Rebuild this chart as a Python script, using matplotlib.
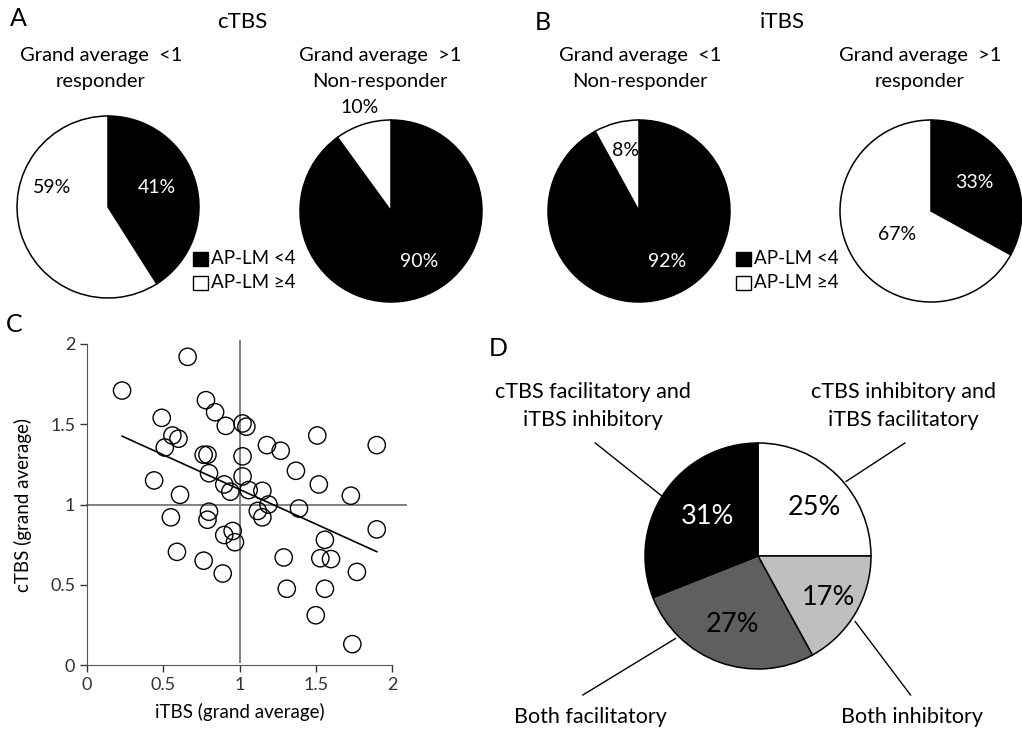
import numpy as np
import matplotlib
matplotlib.use('Agg')
import matplotlib.pyplot as plt
from matplotlib.patches import Rectangle

plt.rcParams['font.family'] = ['Lato', 'DejaVu Sans']

# Panel A / B: share of AP-LM groups (%), black = AP-LM <4, white = AP-LM >=4
ctbs_below = [41, 59]
ctbs_above = [90, 10]
itbs_below = [92, 8]
itbs_above = [33, 67]
legend_labels = ['AP-LM <4', 'AP-LM ≥4']

# Panel C: grand averages per subject
itbs_avg = [0.23, 0.66, 0.78, 0.84, 0.91, 1.02, 1.045, 0.49, 0.56, 0.60,
            0.51, 0.765, 0.79, 1.02, 1.18, 1.27, 1.51, 1.90, 1.37, 0.80,
            0.44, 1.02, 0.90, 0.94, 1.06, 1.15, 1.52, 1.73, 0.61, 1.19,
            1.39, 1.12, 1.15, 0.80, 0.79, 0.55, 0.955, 0.90, 0.97, 1.90,
            1.56, 0.59, 0.765, 0.89, 1.29, 1.53, 1.60, 1.77, 1.31, 1.56,
            1.50, 1.74]
ctbs_avg = [1.71, 1.92, 1.65, 1.575, 1.49, 1.505, 1.485, 1.54, 1.43, 1.41,
            1.355, 1.31, 1.31, 1.30, 1.37, 1.335, 1.43, 1.37, 1.21, 1.195,
            1.15, 1.175, 1.125, 1.08, 1.09, 1.085, 1.125, 1.055, 1.06, 1.0,
            0.975, 0.96, 0.92, 0.955, 0.905, 0.92, 0.835, 0.81, 0.765, 0.845,
            0.78, 0.705, 0.65, 0.57, 0.67, 0.665, 0.66, 0.58, 0.475, 0.475,
            0.31, 0.13]
axis_ticks = [0, 0.5, 1, 1.5, 2]
tick_labels = ['0', '0.5', '1', '1.5', '2']

# Panel D: combined response profile (%)
combo_values = [25, 17, 27, 31]
combo_colors = ['white', '#bfbfbf', '#5f5f5f', 'black']
combo_labels = ['cTBS inhibitory and\niTBS facilitatory', 'Both inhibitory',
                'Both facilitatory', 'cTBS facilitatory and\niTBS inhibitory']

W, H = 1022, 729
fig = plt.figure(figsize=(W / 100, H / 100), dpi=100)


def px_axes(left, top, width, height):
    return fig.add_axes([left / W, 1 - (top + height) / H, width / W, height / H])


def px_text(x, y, s, **kw):
    kw.setdefault('ha', 'center')
    kw.setdefault('va', 'center')
    return fig.text(x / W, 1 - y / H, s, **kw)


def pie_axes(cx, cy, r):
    return px_axes(cx - r, cy - r, 2 * r, 2 * r)


def draw_pie(ax, values, colors, label_pos, label_colors, fs=14):
    ax.pie(values, colors=colors, startangle=90, counterclock=False,
           wedgeprops=dict(edgecolor='black', linewidth=1.1, clip_on=False))
    ax.set_xlim(-1, 1)
    ax.set_ylim(-1, 1)
    ax.set_aspect('equal')
    ax.axis('off')
    for v, (lx, ly), c in zip(values, label_pos, label_colors):
        ax.text(lx, ly, f"{v}%", color=c, ha='center', va='center',
                fontsize=fs, clip_on=False)


def draw_legend(x, y):
    for i, (lab, fc) in enumerate(zip(legend_labels, ['black', 'white'])):
        yy = y + i * 24
        fig.patches.append(Rectangle((x / W, 1 - (yy + 7) / H), 15 / W, 14 / H,
                                     transform=fig.transFigure, facecolor=fc,
                                     edgecolor='black', linewidth=1))
        px_text(x + 18, yy, lab, ha='left', fontsize=13.5)


two_tone = ['black', 'white']
title_fs = 14.5

# ---- A: cTBS
px_text(18, 18, 'A', fontsize=18)
px_text(242, 22, 'cTBS', fontsize=16)
px_text(101, 55, 'Grand average  <1', fontsize=title_fs)
px_text(101, 82, 'responder', fontsize=title_fs)
px_text(380, 55, 'Grand average  >1', fontsize=title_fs)
px_text(380, 82, 'Non-responder', fontsize=title_fs)
draw_pie(pie_axes(108, 207, 91), ctbs_below, two_tone,
         [(0.54, 0.21), (-0.62, 0.21)], ['white', 'black'])
draw_pie(pie_axes(391, 211, 91), ctbs_above, two_tone,
         [(0.31, -0.56), (-0.35, 1.14)], ['white', 'black'])
draw_legend(193, 259)

# ---- B: iTBS
px_text(543, 22, 'B', fontsize=18)
px_text(782, 22, 'iTBS', fontsize=16)
px_text(640, 55, 'Grand average  <1', fontsize=title_fs)
px_text(640, 82, 'Non-responder', fontsize=title_fs)
px_text(920, 55, 'Grand average  >1', fontsize=title_fs)
px_text(920, 82, 'responder', fontsize=title_fs)
draw_pie(pie_axes(639, 211, 91), itbs_below, two_tone,
         [(0.31, -0.56), (-0.15, 0.67)], ['white', 'black'])
draw_pie(pie_axes(931, 211, 91), itbs_above, two_tone,
         [(0.48, 0.31), (-0.37, -0.26)], ['white', 'black'])
draw_legend(736, 259)

# ---- C: scatter of grand averages
px_text(14, 325, 'C', fontsize=18)
ax = px_axes(87, 344, 305, 321)
x = np.array(itbs_avg)
y = np.array(ctbs_avg)
ax.plot([0, 2.09], [1, 1], color='#808080', lw=1.4, clip_on=False, zorder=1)
ax.plot([1, 1], [0.02, 2.02], color='#808080', lw=1.4, clip_on=False, zorder=1)
ax.scatter(x, y, s=155, facecolors='none', edgecolors='black', linewidths=1.0,
           zorder=3, clip_on=False)
slope, intercept = np.polyfit(x, y, 1)
xs = np.array([x.min(), x.max()])
ax.plot(xs, slope * xs + intercept, color='black', lw=1.2, zorder=2)
ax.set_xlim(0, 2)
ax.set_ylim(0, 2)
ax.set_xticks(axis_ticks)
ax.set_xticklabels(tick_labels)
ax.set_yticks(axis_ticks)
ax.set_yticklabels(tick_labels)
ax.tick_params(direction='out', length=5, width=1, labelsize=13,
               colors='#333333')
ax.spines['top'].set_visible(False)
ax.spines['right'].set_visible(False)
for s in ['left', 'bottom']:
    ax.spines[s].set_color('#555555')
ax.set_xlabel('iTBS (grand average)', fontsize=13.5, labelpad=7)
ax.set_ylabel('cTBS (grand average)', fontsize=13.5, labelpad=13)

# ---- D: combined profile
px_text(498, 348, 'D', fontsize=18)
axd = pie_axes(758, 556, 113)
draw_pie(axd, combo_values, combo_colors,
         [(0.50, 0.43), (0.62, -0.37), (-0.23, -0.61), (-0.45, 0.35)],
         ['black', 'black', 'black', 'white'], fs=19.5)
leaders = [((1.30, 1.0), (0.78, 0.66)), ((1.35, -1.23), (0.86, -0.58)),
           ((-1.55, -1.23), (-0.73, -0.73)), ((-1.44, 1.0), (-0.85, 0.53))]
for (x0, y0), (x1, y1) in leaders:
    axd.plot([x0, x1], [y0, y1], color='black', lw=1, clip_on=False)
label_xy = [(903, 392), (912, 717), (590, 717), (593, 392)]
for lab, (lx, ly) in zip(combo_labels, label_xy):
    for k, line in enumerate(lab.split('\n')):
        px_text(lx, ly + 28 * k, line, fontsize=15.5)

fig.savefig('out.png', dpi=100)
